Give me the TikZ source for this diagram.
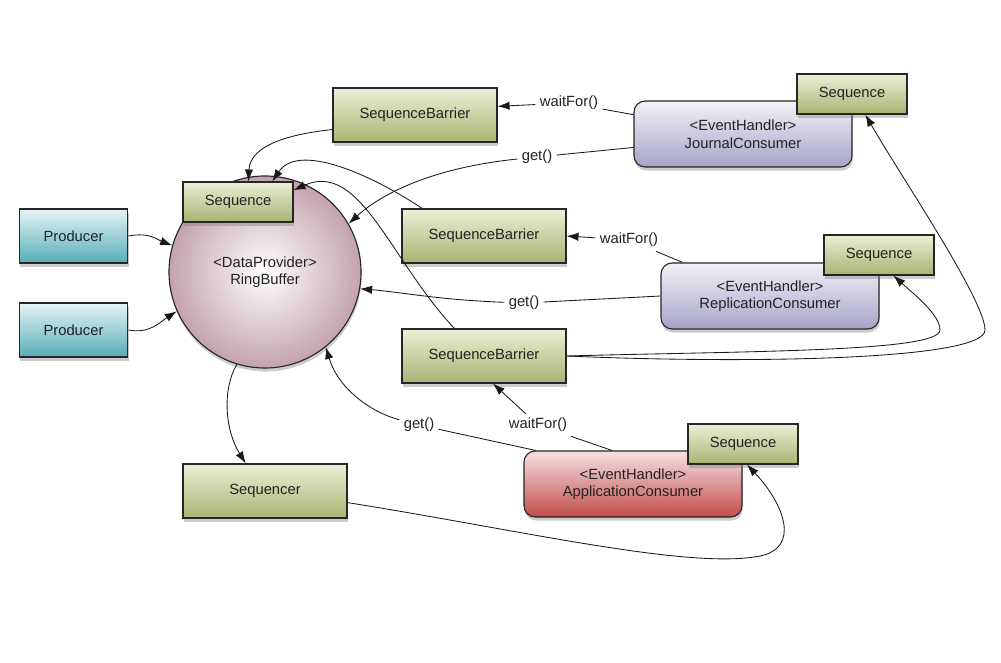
\documentclass[tikz,border=0pt]{standalone}
\usepackage{fontspec}
\setmainfont{Liberation Sans}
\usetikzlibrary{shadows,arrows.meta,shapes.geometric}
\definecolor{seqtop}{HTML}{EBEFD6}
\definecolor{seqbot}{HTML}{A7B472}
\definecolor{prodtop}{HTML}{E6F4F5}
\definecolor{prodbot}{HTML}{56ADB7}
\definecolor{constop}{HTML}{F2F2F8}
\definecolor{consbot}{HTML}{A6A3C8}
\definecolor{apptop}{HTML}{F6E2E2}
\definecolor{appbot}{HTML}{C04C4A}
\definecolor{ringcol}{HTML}{C3A2AF}
\definecolor{txt}{HTML}{222222}
\tikzstyle{boite}=[draw=black!85, line width=0.8pt, text=txt, align=center,
inner sep=1pt, drop shadow={shadow xshift=0.5pt, shadow yshift=-2.5pt, opacity=0.4}]
\tikzstyle{seq}=[boite, top color=seqtop, bottom color=seqbot,
minimum width=2.75cm, minimum height=1cm]
\tikzstyle{barrier}=[seq, minimum width=4.1cm, minimum height=1.35cm]
\tikzstyle{producer}=[boite, top color=prodtop, bottom color=prodbot,
minimum width=2.72cm, minimum height=1.35cm]
\tikzstyle{consumer}=[boite, rounded corners=8pt, top color=constop, bottom color=consbot,
minimum width=5.45cm, minimum height=1.65cm]
\tikzstyle{appconsumer}=[consumer, top color=apptop, bottom color=appbot]
\tikzstyle{ring}=[boite, circle, inner color=white, outer color=ringcol, minimum size=4.8cm]
\tikzstyle{call}=[text=txt, inner sep=3pt]
\tikzstyle{line}=[draw, line width=0.6pt, black!90, -{Latex[length=8.5pt,width=6pt]}]
\tikzstyle{link}=[draw, line width=0.6pt, black!90]
\newcommand{\bloc}[3]{node (#1)[#2]{#3}}

\begin{document}
\begin{tikzpicture}[x=0.025cm, y=-0.025cm, font=\fontsize{10.5}{12.5}\selectfont]
	\useasboundingbox (0,0) rectangle (1001,663);
	
	% Draw diagram elements
	\path (265,272) \bloc{ring}{ring}{<DataProvider>\\RingBuffer};
	\path (238,202) \bloc{rseq}{seq}{Sequence};
	\path (73.5,236) \bloc{prod1}{producer}{Producer};
	\path (73.5,330) \bloc{prod2}{producer}{Producer};
	\path (415,115) \bloc{sb1}{barrier}{SequenceBarrier};
	\path (484,236) \bloc{sb2}{barrier}{SequenceBarrier};
	\path (484,356) \bloc{sb3}{barrier}{SequenceBarrier};
	\path (265,491) \bloc{sqr}{barrier}{Sequencer};
	\path (743,134) \bloc{jc}{consumer}{<EventHandler>\\JournalConsumer};
	\path (770,296) \bloc{rc}{consumer}{<EventHandler>\\ReplicationConsumer};
	\path (633,484) \bloc{ac}{appconsumer}{<EventHandler>\\ApplicationConsumer};
	\path (852,94) \bloc{jseq}{seq}{Sequence};
	\path (879,255) \bloc{cseq}{seq}{Sequence};
	\path (743,444) \bloc{aseq}{seq}{Sequence};
	
	% Labels of the calls
	\node[call] (waitA) at (569,103) {waitFor()};
	\node[call] (getA) at (537,157) {get()};
	\node[call] (waitB) at (629,240) {waitFor()};
	\node[call] (getB) at (524,303) {get()};
	\node[call] (waitC) at (538,425) {waitFor()};
	\node[call] (getC) at (419,425) {get()};
	
	% Draw arrows between elements
	\path [line] (prod1.east) .. controls (150,232) and (158,240) .. (ring.164);
	\path [line] (prod2.east) .. controls (150,334) and (160,322) .. (ring.204);
	\path [line] (sb1.190) .. controls (290,134) and (250,145) .. (rseq.63);
	\path [line] (sb2.156) .. controls (380,180) and (300,140) .. (rseq.31);
	\path [line] (sb3.137) .. controls (390,260) and (360,160) .. (rseq.12);
	\path [line] (ring.-107) .. controls (222,390) and (225,430) .. (sqr.125);
	
	\path [link] (jc.170) -- (waitA);
	\path [line] (waitA) -- (sb1.6);
	\path [link] (jc.187) -- (getA);
	\path [line] (getA) .. controls (430,168) and (380,195) .. (ring.30);
	
	\path [link] (rc.159) -- (waitB);
	\path [line] (waitB) -- (sb2.east);
	\path [link] (rc.west) -- (getB);
	\path [line] (getB) .. controls (440,300) and (400,292) .. (ring.-10);
	
	\path [link] (ac.122) -- (waitC);
	\path [line] (waitC) -- (sb3.-72);
	\path [link] (ac.161) -- (getC);
	\path [line] (getC) .. controls (370,412) and (338,388) .. (ring.-51);
	
	\path [line] (sb3.east) .. controls (750,351) and (940,352) .. (940,330)
	.. controls (940,315) and (915,295) .. (cseq.-55);
	\path [line] (sb3.east) .. controls (750,364) and (985,360) .. (985,330)
	.. controls (985,300) and (900,175) .. (jseq.-57);
	\path [line] (sqr.-8) .. controls (520,530) and (690,570) .. (760,556)
	.. controls (800,548) and (785,505) .. (aseq.-79);
	
\end{tikzpicture}
\end{document}
